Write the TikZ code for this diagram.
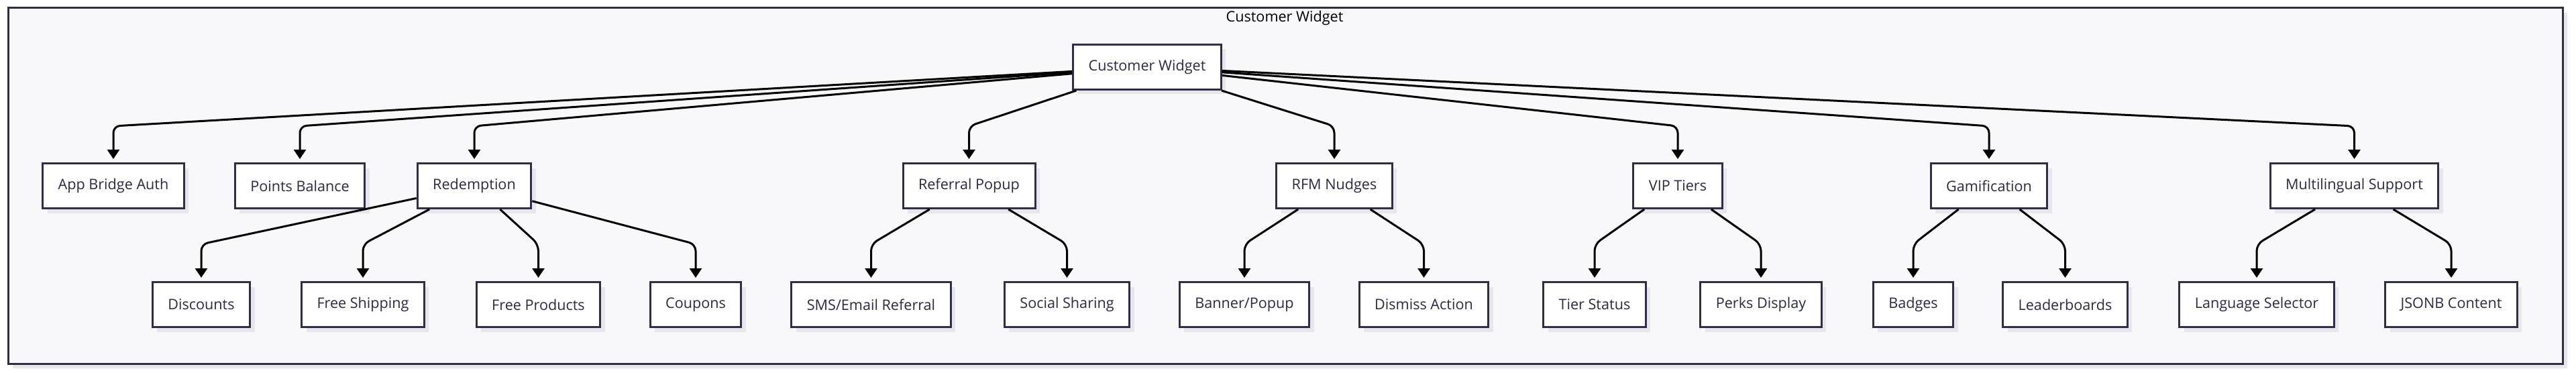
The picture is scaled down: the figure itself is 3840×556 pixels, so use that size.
\documentclass[tikz,border=0pt]{standalone}
\usepackage{fontspec}
\setmainfont{Open Sans}
\usetikzlibrary{arrows.meta,shadows}
\definecolor{framebg}{HTML}{F8F8FA}
\definecolor{boxline}{HTML}{2E2E45}
\definecolor{boxtext}{HTML}{2A2A40}
\definecolor{shade}{HTML}{E6E6EC}

\begin{document}
\begin{tikzpicture}[x=0.5pt,y=-0.5pt,>={Triangle[length=7pt,width=9pt]},
  box/.style={draw=boxline,line width=1.5pt,fill=white,text=boxtext,
    font=\fontsize{10.8}{13}\selectfont,inner xsep=11.5pt,minimum height=33.5pt,
    drop shadow={shadow xshift=3.5pt,shadow yshift=-3.5pt,fill=shade,opacity=1}},
  edge/.style={->,line width=1.5pt,rounded corners=5pt,shorten >=2.5pt}]
  \useasboundingbox (0,0) rectangle (3840,556);
  \draw[draw=boxline,line width=1.5pt,fill=framebg,
    drop shadow={shadow xshift=3.5pt,shadow yshift=-3.5pt,fill=shade,opacity=1}]
    (12,12) rectangle (3820,542);
  \node[font=\fontsize{10.8}{13}\selectfont] (title) at (1915,27) {Customer Widget};

  % bend rows
  \coordinate (row1) at (0,188);
  \coordinate (row2) at (0,364);

  \node[box] (top) at (1710,100) {Customer Widget};

  \node[box] (auth) at (169,277) {App Bridge Auth};
  \node[box] (points) at (447,277) {Points Balance};
  \node[box] (redeem) at (707,277) {Redemption};
  \node[box] (referral) at (1444.5,277) {Referral Popup};
  \node[box] (rfm) at (1989,277) {RFM Nudges};
  \node[box] (vip) at (2501,277) {VIP Tiers};
  \node[box] (gamif) at (2965,277) {Gamification};
  \node[box] (multi) at (3509.5,277) {Multilingual Support};

  \node[box] (discounts) at (300,454) {Discounts};
  \node[box] (shipping) at (541,454) {Free Shipping};
  \node[box] (products) at (802.5,454) {Free Products};
  \node[box] (coupons) at (1037,454) {Coupons};
  \node[box] (sms) at (1298.5,454) {SMS/Email Referral};
  \node[box] (social) at (1590.5,454) {Social Sharing};
  \node[box] (banner) at (1855,454) {Banner/Popup};
  \node[box] (dismiss) at (2122.5,454) {Dismiss Action};
  \node[box] (tierstatus) at (2377,454) {Tier Status};
  \node[box] (perks) at (2625,454) {Perks Display};
  \node[box] (badges) at (2852,454) {Badges};
  \node[box] (leaders) at (3078.5,454) {Leaderboards};
  \node[box] (langsel) at (3364,454) {Language Selector};
  \node[box] (jsonb) at (3654,454) {JSONB Content};

  \draw[edge] (top) -- (auth |- row1) -- (auth);
  \draw[edge] (top) -- (points |- row1) -- (points);
  \draw[edge] (top) -- (redeem |- row1) -- (redeem);
  \draw[edge] (top) -- (referral |- row1) -- (referral);
  \draw[edge] (top) -- (rfm |- row1) -- (rfm);
  \draw[edge] (top) -- (vip |- row1) -- (vip);
  \draw[edge] (top) -- (gamif |- row1) -- (gamif);
  \draw[edge] (top) -- (multi |- row1) -- (multi);

  \draw[edge] (redeem) -- (discounts |- row2) -- (discounts);
  \draw[edge] (redeem) -- (shipping |- row2) -- (shipping);
  \draw[edge] (redeem) -- (products |- row2) -- (products);
  \draw[edge] (redeem) -- (coupons |- row2) -- (coupons);
  \draw[edge] (referral) -- (sms |- row2) -- (sms);
  \draw[edge] (referral) -- (social |- row2) -- (social);
  \draw[edge] (rfm) -- (banner |- row2) -- (banner);
  \draw[edge] (rfm) -- (dismiss |- row2) -- (dismiss);
  \draw[edge] (vip) -- (tierstatus |- row2) -- (tierstatus);
  \draw[edge] (vip) -- (perks |- row2) -- (perks);
  \draw[edge] (gamif) -- (badges |- row2) -- (badges);
  \draw[edge] (gamif) -- (leaders |- row2) -- (leaders);
  \draw[edge] (multi) -- (langsel |- row2) -- (langsel);
  \draw[edge] (multi) -- (jsonb |- row2) -- (jsonb);
\end{tikzpicture}
\end{document}
